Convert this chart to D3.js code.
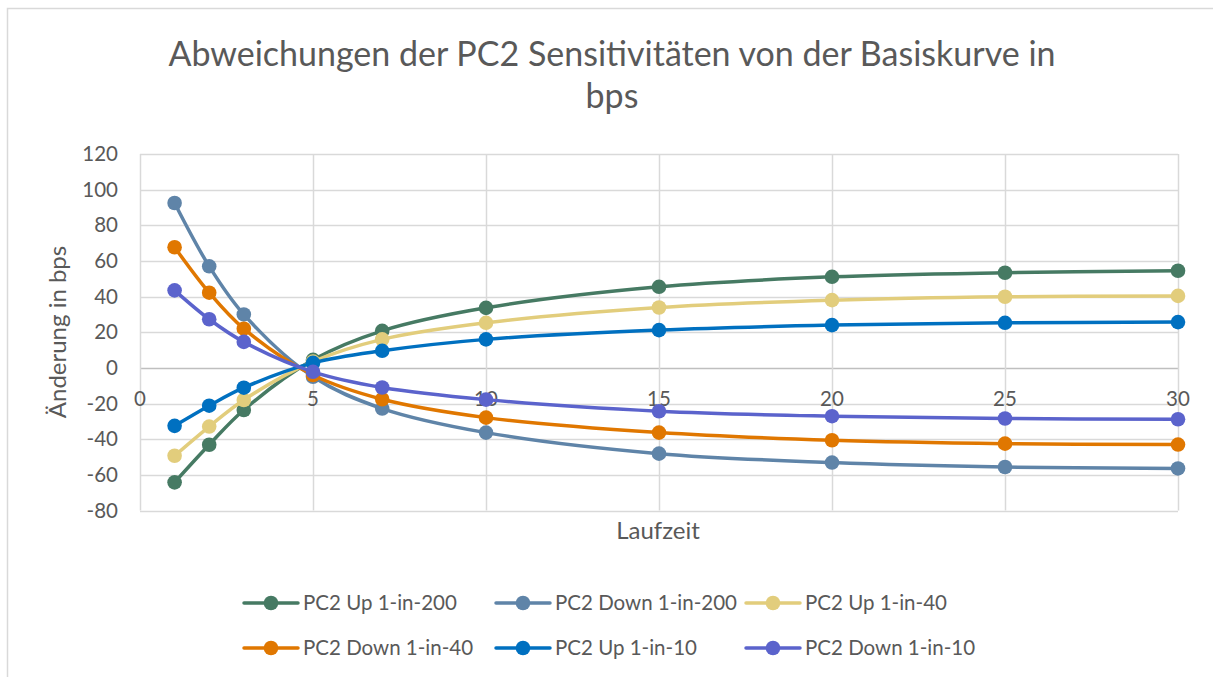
<!DOCTYPE html>
<html>
<head>
<meta charset="utf-8">
<script src="https://cdn.jsdelivr.net/npm/d3@7"></script>
<style>
    body { margin: 0; background: #fff; }
    svg { display: block; }
    text { font-family: Lato, "Open Sans", sans-serif; fill: #595959; }
</style>
</head>
<body>
<svg width="1213" height="677"></svg>
<script>
// data
var laufzeit = [1, 2, 3, 5, 7, 10, 15, 20, 25, 30];

var seriesNames = ['PC2 Up 1-in-200', 'PC2 Down 1-in-200', 'PC2 Up 1-in-40',
                   'PC2 Down 1-in-40', 'PC2 Up 1-in-10', 'PC2 Down 1-in-10'];
var seriesColors = ['#467a63', '#5f84a8', '#e2cd7c', '#e07700', '#0070c0', '#5b63cc'];

var up200   = [-64.2, -43.1, -23.6, 4.5, 20.8, 33.7, 45.5, 51.1, 53.4, 54.5];
var down200 = [92.5, 57.0, 30.0, -5.0, -22.8, -36.3, -48.1, -53.1, -55.6, -56.4];
var up40    = [-49.3, -32.9, -18.0, 3.5, 16.0, 25.3, 33.9, 38.0, 39.9, 40.4];
var down40  = [67.7, 42.2, 22.0, -4.0, -17.6, -27.9, -36.3, -40.6, -42.5, -43.0];
var up10    = [-32.5, -21.2, -11.1, 2.8, 9.6, 16.0, 21.2, 24.0, 25.3, 25.7];
var down10  = [43.5, 27.3, 14.6, -2.2, -11.0, -17.8, -24.3, -27.1, -28.4, -28.8];

var seriesValues = [up200, down200, up40, down40, up10, down10];

var xTicks = [0, 5, 10, 15, 20, 25, 30];
var yTicks = [-80, -60, -40, -20, 0, 20, 40, 60, 80, 100, 120];

var dom = {};

function init() {
    dom.svg = d3.select('svg');

    // outer chart border
    dom.svg.append('rect')
        .attr('x', 7.5).attr('y', 8.5)
        .attr('width', 1300).attr('height', 800)
        .attr('fill', 'none').attr('stroke', '#d9d9d9').attr('stroke-width', 1.5);

    var x = d3.scaleLinear().domain([0, 30]).range([140, 1178]);
    var y = d3.scaleLinear().domain([-80, 120]).range([510.5, 154]);

    // title
    var title = dom.svg.append('text')
        .attr('text-anchor', 'middle')
        .style('font-size', '34px');
    title.append('tspan').attr('x', 612).attr('y', 66)
        .text('Abweichungen der PC2 Sensitivitäten von der Basiskurve in');
    title.append('tspan').attr('x', 612).attr('y', 108).text('bps');

    // grid
    var grid = dom.svg.append('g');
    grid.selectAll('.hgrid').data(yTicks).enter().append('line')
        .attr('x1', x(0)).attr('x2', x(30))
        .attr('y1', function(d) { return Math.round(y(d)) + 0.5; })
        .attr('y2', function(d) { return Math.round(y(d)) + 0.5; })
        .attr('stroke', function(d) { return d === 0 ? '#bfbfbf' : '#d9d9d9'; })
        .attr('stroke-width', 1.5);
    grid.selectAll('.vgrid').data(xTicks).enter().append('line')
        .attr('y1', y(120)).attr('y2', y(-80))
        .attr('x1', function(d) { return Math.round(x(d)) + 0.5; })
        .attr('x2', function(d) { return Math.round(x(d)) + 0.5; })
        .attr('stroke', '#d9d9d9')
        .attr('stroke-width', 1.5);

    // y tick labels
    dom.svg.append('g').selectAll('text').data(yTicks).enter().append('text')
        .attr('x', 118)
        .attr('y', function(d) { return y(d); })
        .attr('dy', '0.35em')
        .attr('text-anchor', 'end')
        .style('font-size', '20.5px')
        .text(function(d) { return d; });

    // x tick labels (sit just under the zero line)
    dom.svg.append('g').selectAll('text').data(xTicks).enter().append('text')
        .attr('x', function(d) { return x(d); })
        .attr('y', y(0) + 38)
        .attr('text-anchor', 'middle')
        .style('font-size', '20.5px')
        .text(function(d) { return d; });

    // axis titles
    dom.svg.append('text')
        .attr('transform', 'translate(66,332) rotate(-90)')
        .attr('text-anchor', 'middle')
        .style('font-size', '24px')
        .text('Änderung in bps');
    dom.svg.append('text')
        .attr('x', 658).attr('y', 539)
        .attr('text-anchor', 'middle')
        .style('font-size', '24px')
        .text('Laufzeit');

    // series
    var line = d3.line()
        .x(function(d) { return x(d[0]); })
        .y(function(d) { return y(d[1]); })
        .curve(d3.curveCatmullRom.alpha(0.5));

    var series = seriesValues.map(function(vals, i) {
        return { name: seriesNames[i], color: seriesColors[i],
                 points: vals.map(function(v, j) { return [laufzeit[j], v]; }) };
    });

    var groups = dom.svg.append('g').selectAll('.series').data(series)
        .enter().append('g').classed('series', true);

    groups.append('path')
        .attr('d', function(d) { return line(d.points); })
        .attr('fill', 'none')
        .attr('stroke', function(d) { return d.color; })
        .attr('stroke-width', 3.5);

    groups.selectAll('circle').data(function(d) { return d.points.map(function(p) { return { p: p, c: d.color }; }); })
        .enter().append('circle')
        .attr('cx', function(d) { return x(d.p[0]); })
        .attr('cy', function(d) { return y(d.p[1]); })
        .attr('r', 7.3)
        .attr('fill', function(d) { return d.c; });

    // legend
    var colX = [244, 496, 746];
    var rowY = [603, 648];
    var legend = dom.svg.append('g').selectAll('.legend').data(series)
        .enter().append('g')
        .attr('transform', function(d, i) {
            return 'translate(' + colX[i % 3] + ',' + rowY[Math.floor(i / 3)] + ')';
        });
    legend.append('line')
        .attr('x1', 0).attr('x2', 54)
        .attr('stroke', function(d) { return d.color; })
        .attr('stroke-width', 3.5)
        .attr('stroke-linecap', 'round');
    legend.append('circle')
        .attr('cx', 27).attr('r', 7.3)
        .attr('fill', function(d) { return d.color; });
    legend.append('text')
        .attr('x', 59).attr('dy', '0.35em')
        .style('font-size', '20.5px')
        .text(function(d) { return d.name; });
}

init();
</script>
</body>
</html>
